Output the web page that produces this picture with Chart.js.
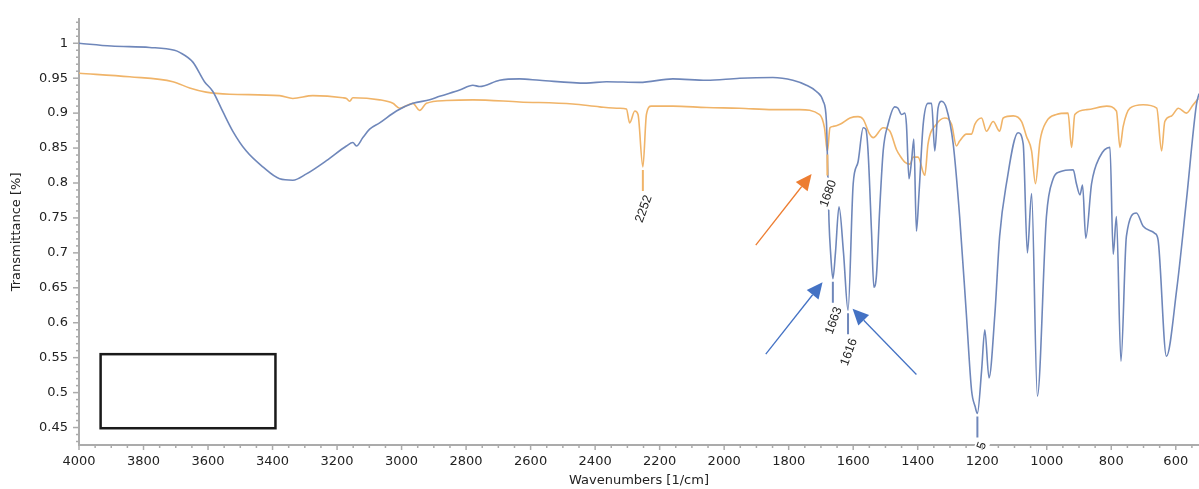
<!DOCTYPE html>
<html>
<head>
<meta charset="utf-8">
<script src="https://cdn.jsdelivr.net/npm/chart.js@4.4.1/dist/chart.umd.min.js"></script>
<style>
  html, body { margin: 0; padding: 0; background: #fff; }
  #wrap { width: 1199px; height: 489px; }
</style>
</head>
<body>
<div id="wrap"><canvas id="irChart" width="1199" height="489"></canvas></div>
<script>
// spectrum 1 (blue) - wavenumber / transmittance
const blueWn = [4000, 3900, 3781, 3704, 3688, 3647, 3611, 3585, 3554, 3523, 3482, 3430, 3378, 3337, 3295, 3233, 3171, 3151, 3140, 3120,
  3099, 3068, 3016, 2965, 2913, 2882, 2820, 2779, 2758, 2696, 2634, 2572, 2427, 2365, 2262, 2159, 2055, 1952, 1849, 1787,
  1745, 1714, 1693, 1683, 1679, 1675, 1670, 1663, 1655, 1644, 1630, 1616, 1600, 1585, 1569, 1561, 1554, 1543, 1536, 1528,
  1518, 1507, 1492, 1471, 1461, 1450, 1440, 1435, 1427, 1419, 1412, 1404, 1396, 1383, 1368, 1357, 1347, 1337, 1326, 1311,
  1290, 1270, 1249, 1233, 1222, 1215, 1202, 1192, 1179, 1161, 1146, 1125, 1089, 1073, 1060, 1047, 1029, 1001, 980, 959,
  918, 908, 897, 889, 879, 861, 836, 804, 794, 784, 770, 753, 722, 701, 665, 655, 629, 597, 567, 536, 528];
const blueT = [1.000, 0.996, 0.994, 0.990, 0.987, 0.973, 0.945, 0.931, 0.902, 0.874, 0.846, 0.823, 0.806, 0.804, 0.813, 0.832, 0.853, 0.858, 0.853, 0.865,
  0.877, 0.886, 0.903, 0.914, 0.919, 0.924, 0.933, 0.940, 0.938, 0.947, 0.949, 0.947, 0.943, 0.945, 0.944, 0.949, 0.947, 0.950, 0.951, 0.947,
  0.940, 0.931, 0.917, 0.888, 0.820, 0.745, 0.700, 0.663, 0.700, 0.766, 0.700, 0.618, 0.799, 0.830, 0.879, 0.877, 0.846, 0.728, 0.651, 0.667,
  0.761, 0.846, 0.884, 0.909, 0.907, 0.898, 0.900, 0.884, 0.806, 0.832, 0.863, 0.731, 0.785, 0.884, 0.914, 0.914, 0.846, 0.907, 0.917, 0.907,
  0.856, 0.752, 0.611, 0.503, 0.480, 0.470, 0.531, 0.590, 0.521, 0.611, 0.724, 0.799, 0.872, 0.856, 0.700, 0.785, 0.495, 0.752, 0.806, 0.816,
  0.819, 0.799, 0.783, 0.797, 0.721, 0.799, 0.837, 0.851, 0.698, 0.752, 0.545, 0.724, 0.757, 0.738, 0.728, 0.719, 0.552, 0.648, 0.775, 0.912, 0.928];

// spectrum 2 (orange)
const orangeWn = [4000, 3843, 3709, 3657, 3606, 3533, 3378, 3337, 3275, 3182, 3171, 3161, 3151, 3068, 3027, 3006, 2965, 2944, 2923, 2861,
  2779, 2634, 2469, 2386, 2324, 2303, 2293, 2277, 2267, 2252, 2241, 2226, 2159, 2055, 1952, 1849, 1766, 1704, 1689, 1680,
  1672, 1662, 1641, 1610, 1585, 1569, 1549, 1538, 1507, 1486, 1466, 1455, 1440, 1424, 1414, 1399, 1378, 1368, 1342, 1316,
  1295, 1280, 1270, 1249, 1233, 1223, 1202, 1187, 1166, 1146, 1135, 1104, 1078, 1063, 1047, 1035, 1021, 1001, 970, 934,
  923, 913, 876, 814, 784, 773, 763, 742, 701, 659, 644, 634, 613, 592, 567, 546, 530];
const orangeT = [0.957, 0.952, 0.945, 0.936, 0.930, 0.927, 0.925, 0.921, 0.925, 0.922, 0.921, 0.917, 0.922, 0.919, 0.914, 0.907, 0.914, 0.904, 0.914, 0.918,
  0.919, 0.916, 0.913, 0.909, 0.907, 0.906, 0.886, 0.903, 0.898, 0.823, 0.898, 0.910, 0.910, 0.908, 0.907, 0.905, 0.905, 0.898, 0.879, 0.845,
  0.879, 0.881, 0.884, 0.893, 0.895, 0.891, 0.870, 0.865, 0.879, 0.874, 0.848, 0.839, 0.830, 0.827, 0.837, 0.837, 0.811, 0.856, 0.884, 0.893,
  0.884, 0.853, 0.860, 0.870, 0.870, 0.884, 0.893, 0.874, 0.888, 0.874, 0.893, 0.896, 0.888, 0.867, 0.846, 0.799, 0.860, 0.888, 0.898, 0.900,
  0.851, 0.898, 0.905, 0.910, 0.903, 0.851, 0.881, 0.907, 0.912, 0.907, 0.846, 0.888, 0.896, 0.907, 0.900, 0.912, 0.921];

// tick labels
const xTickValues = [4000, 3800, 3600, 3400, 3200, 3000, 2800, 2600, 2400, 2200, 2000, 1800, 1600, 1400, 1200, 1000, 800, 600];
const yTickValues = [1, 0.95, 0.9, 0.85, 0.8, 0.75, 0.7, 0.65, 0.6, 0.55, 0.5, 0.45];

// peak labels
const peakWn = [2252, 1680, 1663, 1616, 1215];
const peakT = [0.823, 0.845, 0.663, 0.618, 0.470];
const peakText = ['2252', '1680', '1663', '1616', '1215'];
const peakColor = ['#f0b469', '#f0b469', '#6f87ba', '#6f87ba', '#6f87ba'];

// arrows (tail -> head) and the empty box
const arrowFromWn = [1902, 1871, 1404];
const arrowFromT = [0.711, 0.555, 0.526];
const arrowToWn = [1729, 1695, 1602];
const arrowToT = [0.813, 0.658, 0.620];
const arrowColor = ['#ed7d31', '#4472c4', '#4472c4'];
const boxWn = [3933, 3391];
const boxT = [0.555, 0.449];

const blueColor = '#6f87ba';
const orangeColor = '#f0b469';
const axisColor = '#ababab';
const uiFont = '"DejaVu Sans", Verdana, sans-serif';

function toPoints(wn, t) { return wn.map((x, i) => ({ x: x, y: t[i] })); }

// minor/major ticks drawn by hand (Chart.js has no minor ticks)
const tickPlugin = {
    id: 'ticks',
    afterDraw(chart) {
        const ctx = chart.ctx, xs = chart.scales.x, ys = chart.scales.y, area = chart.chartArea;
        ctx.save();
        ctx.strokeStyle = axisColor;
        ctx.lineWidth = 1.5;
        for (let v = 550; v <= 4000; v += 50) {
            const px = xs.getPixelForValue(v);
            if (px < area.left - 1 || px > area.right) continue;
            const len = v % 200 === 0 ? 5 : 3;
            ctx.beginPath(); ctx.moveTo(px, area.bottom); ctx.lineTo(px, area.bottom + len); ctx.stroke();
        }
        for (let i = 43; i <= 103; i++) {
            const py = ys.getPixelForValue(i / 100);
            const len = i % 5 === 0 ? 6 : 3;
            ctx.beginPath(); ctx.moveTo(area.left, py); ctx.lineTo(area.left - len, py); ctx.stroke();
        }
        ctx.restore();
    }
};

const annotPlugin = {
    id: 'annot',
    afterDatasetsDraw(chart) {
        const ctx = chart.ctx, xs = chart.scales.x, ys = chart.scales.y, area = chart.chartArea;
        ctx.save();

        // box
        ctx.strokeStyle = '#1a1a1a';
        ctx.lineWidth = 2.5;
        const bx1 = xs.getPixelForValue(boxWn[0]), bx2 = xs.getPixelForValue(boxWn[1]);
        const by1 = ys.getPixelForValue(boxT[0]), by2 = ys.getPixelForValue(boxT[1]);
        ctx.strokeRect(bx1, by1, bx2 - bx1, by2 - by1);

        // arrows
        arrowFromWn.forEach((w, i) => {
            const x1 = xs.getPixelForValue(w), y1 = ys.getPixelForValue(arrowFromT[i]);
            const x2 = xs.getPixelForValue(arrowToWn[i]), y2 = ys.getPixelForValue(arrowToT[i]);
            const a = Math.atan2(y2 - y1, x2 - x1);
            const hl = 16, hw = 7.5;
            const bxp = x2 - hl * Math.cos(a), byp = y2 - hl * Math.sin(a);
            ctx.strokeStyle = arrowColor[i];
            ctx.fillStyle = arrowColor[i];
            ctx.lineWidth = 1.3;
            ctx.beginPath(); ctx.moveTo(x1, y1); ctx.lineTo(bxp, byp); ctx.stroke();
            ctx.beginPath();
            ctx.moveTo(x2, y2);
            ctx.lineTo(bxp + hw * Math.sin(a), byp - hw * Math.cos(a));
            ctx.lineTo(bxp - hw * Math.sin(a), byp + hw * Math.cos(a));
            ctx.closePath(); ctx.fill();
        });

        // peak labels (clipped just under the plot, like the original)
        ctx.beginPath();
        ctx.rect(area.left, area.top, area.right - area.left, area.bottom - area.top + 4);
        ctx.clip();
        ctx.font = '12.5px "Liberation Sans", Arial, sans-serif';
        peakWn.forEach((w, i) => {
            const px = xs.getPixelForValue(w), py = ys.getPixelForValue(peakT[i]);
            ctx.strokeStyle = peakColor[i];
            ctx.lineWidth = 2;
            ctx.beginPath(); ctx.moveTo(px, py + 3); ctx.lineTo(px, py + 24); ctx.stroke();
            const tw = ctx.measureText(peakText[i]).width;
            ctx.save();
            ctx.translate(px + 1, py + 42);
            ctx.rotate(-70 * Math.PI / 180);
            ctx.fillStyle = '#fff';
            ctx.fillRect(-tw / 2 - 1, -7, tw + 2, 14);
            ctx.fillStyle = '#222';
            ctx.textAlign = 'center';
            ctx.textBaseline = 'middle';
            ctx.fillText(peakText[i], 0, 0);
            ctx.restore();
        });
        ctx.restore();
    }
};

new Chart(document.getElementById('irChart'), {
    type: 'line',
    data: {
        datasets: [
            { label: 'A', data: toPoints(blueWn, blueT), borderColor: blueColor, borderWidth: 1.6, pointRadius: 0, cubicInterpolationMode: 'monotone' },
            { label: 'B', data: toPoints(orangeWn, orangeT), borderColor: orangeColor, borderWidth: 1.6, pointRadius: 0, cubicInterpolationMode: 'monotone' }
        ]
    },
    options: {
        responsive: false,
        animation: false,
        devicePixelRatio: 1,
        layout: { padding: { top: 13, right: 0, left: 0, bottom: 0 } },
        plugins: { legend: { display: false }, tooltip: { enabled: false } },
        scales: {
            x: {
                type: 'linear',
                reverse: true,
                min: 528,
                max: 4000,
                afterBuildTicks: s => { s.ticks = xTickValues.map(v => ({ value: v })); },
                afterFit: s => { s.height = 44; },
                grid: { display: false, drawTicks: false },
                border: { display: true, color: axisColor, width: 2 },
                ticks: { color: '#222', padding: 9, maxRotation: 0, autoSkip: false, callback: v => String(v), font: { family: uiFont, size: 13 } },
                title: { display: true, text: 'Wavenumbers [1/cm]', color: '#222', padding: { top: 0, bottom: 1 }, font: { family: uiFont, size: 13 } }
            },
            y: {
                min: 0.425,
                max: 1.035,
                afterBuildTicks: s => { s.ticks = yTickValues.map(v => ({ value: v })); },
                afterFit: s => { s.width = 79; },
                grid: { display: false, drawTicks: false },
                border: { display: true, color: axisColor, width: 2 },
                ticks: { color: '#222', padding: 11, callback: v => String(+v.toFixed(2)), font: { family: uiFont, size: 13 } },
                title: { display: true, text: 'Transmittance [%]', color: '#222', padding: { top: 9, bottom: 0 }, font: { family: uiFont, size: 13 } }
            }
        }
    },
    plugins: [tickPlugin, annotPlugin]
});
</script>
</body>
</html>
